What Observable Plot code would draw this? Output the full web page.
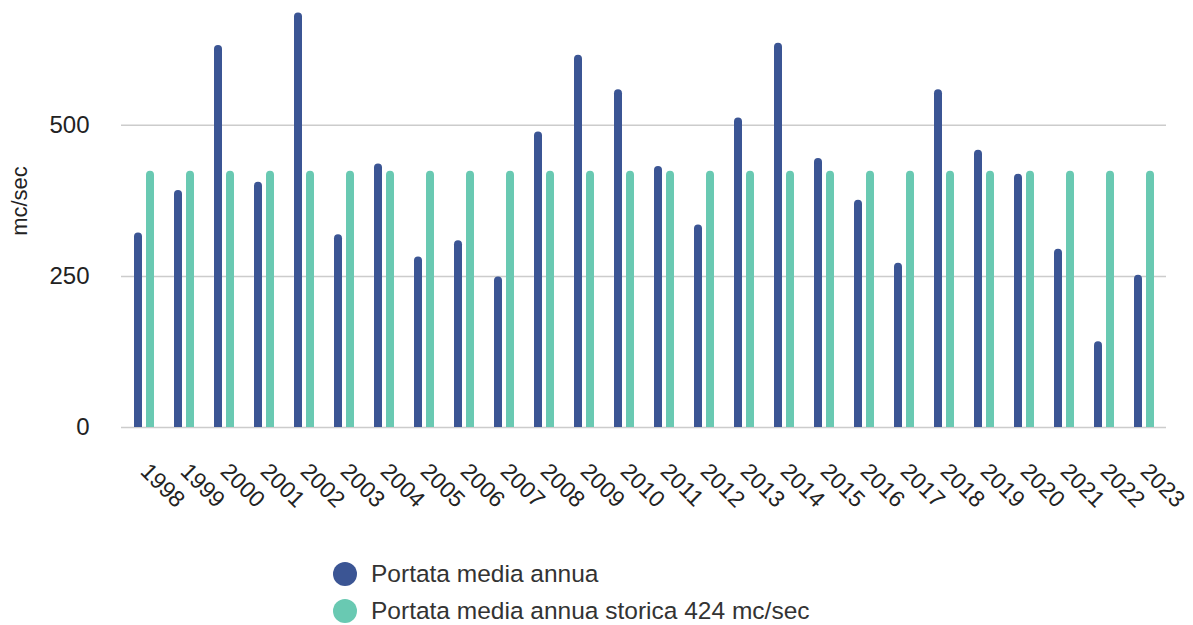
<!DOCTYPE html>
<html>
<head>
<meta charset="utf-8">
<script src="https://cdn.jsdelivr.net/npm/d3@7"></script>
<script src="https://cdn.jsdelivr.net/npm/@observablehq/plot@0.6"></script>
<style>
  html, body { margin: 0; padding: 0; background: #fff; }
  body { font-family: "Liberation Sans", Arial, sans-serif; width: 1193px; height: 625px; overflow: hidden; }
  #legend { position: absolute; left: 333px; top: 555px; }
  .item { display: flex; align-items: center; height: 37px; font-size: 24.5px; color: #333; }
  .dot { width: 24px; height: 24px; border-radius: 50%; margin-right: 14px; }
</style>
</head>
<body>
<div id="chart"></div>
<div id="legend"></div>
<script>
const years = ["1998","1999","2000","2001","2002","2003","2004","2005","2006","2007","2008","2009","2010","2011","2012","2013","2014","2015","2016","2017","2018","2019","2020","2021","2022","2023"];
const annual = [322, 392, 632, 406, 686, 319, 436, 282, 309, 249, 489, 616, 559, 432, 335, 512, 636, 445, 376, 272, 559, 459, 419, 295, 142, 252];
const historical = [424, 424, 424, 424, 424, 424, 424, 424, 424, 424, 424, 424, 424, 424, 424, 424, 424, 424, 424, 424, 424, 424, 424, 424, 424, 424];
const seriesNames = ["Portata media annua", "Portata media annua storica 424 mc/sec"];
const seriesColors = ["#3b5594", "#69c9b2"];
const yTicks = [0, 250, 500];
const yLabel = "mc/sec";

const annualData = years.map((y, i) => ({year: y, value: annual[i]}));
const histData = years.map((y, i) => ({year: y, value: historical[i]}));

function roundedBars(data, color, insetLeft, insetRight) {
  return [
    Plot.barY(data, {x: "year", y: "value", fill: color, insetLeft, insetRight, rx: 4, ry: 4}),
    Plot.barY(data, {x: "year", y: "value", fill: color, insetLeft, insetRight, insetTop: 5})
  ];
}

const chart = Plot.plot({
  width: 1193,
  height: 545,
  marginLeft: 121,
  marginRight: 27,
  marginTop: 4,
  marginBottom: 118,
  style: {fontFamily: "'Liberation Sans', Arial, sans-serif", color: "#222", background: "#fff"},
  x: {type: "band", domain: years, padding: 0, label: null},
  y: {domain: [0, 700], label: null},
  marks: [
    Plot.gridY(yTicks, {stroke: "#cccccc", strokeOpacity: 1, strokeWidth: 1.5}),
    Plot.axisY(yTicks, {tickSize: 0, tickPadding: 32, fontSize: 24, label: null}),
    Plot.axisX({tickSize: 0, tickRotate: 45, tickPadding: 40, fontSize: 23, label: null}),
    ...roundedBars(annualData, seriesColors[0], 10, 22),
    ...roundedBars(histData, seriesColors[1], 22, 10),
    Plot.text([yLabel], {frameAnchor: "left", textAnchor: "middle", dx: -102, dy: -15, rotate: -90, fontSize: 22, fill: "#222"})
  ]
});
document.getElementById("chart").appendChild(chart);

const legend = document.getElementById("legend");
seriesNames.forEach((name, i) => {
  const item = document.createElement("div");
  item.className = "item";
  const dot = document.createElement("span");
  dot.className = "dot";
  dot.style.background = seriesColors[i];
  const label = document.createElement("span");
  label.textContent = name;
  item.appendChild(dot);
  item.appendChild(label);
  legend.appendChild(item);
});
</script>
</body>
</html>
